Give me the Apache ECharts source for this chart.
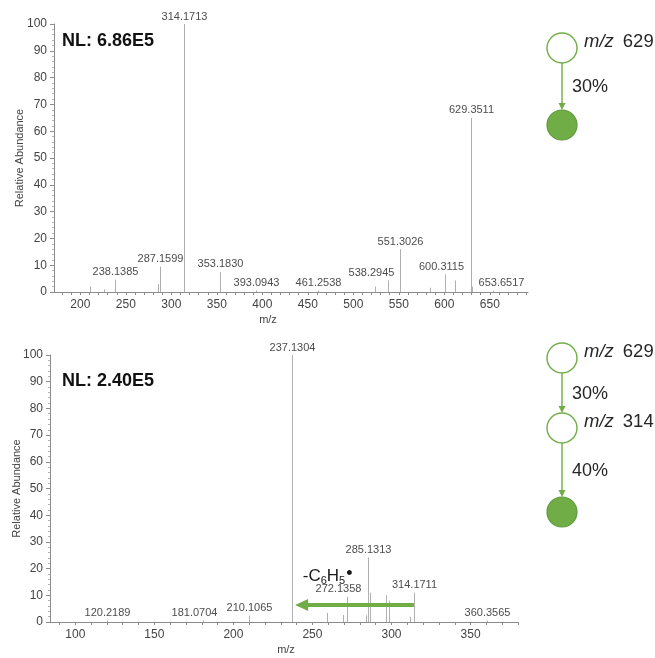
<!DOCTYPE html>
<html>
<head>
<meta charset="utf-8">
<script src="https://cdn.jsdelivr.net/npm/echarts@6/dist/echarts.min.js"></script>
<style>
  html, body { margin: 0; padding: 0; background: #ffffff; }
  #chart { width: 655px; height: 658px; }
</style>
</head>
<body>
<div id="chart"></div>
<script>
// ---- MS2 spectrum of precursor m/z 629 (upper panel) ----
const ms2Mz  = [210.6, 226.0, 238.1385, 285.5, 287.1599, 314.1713, 353.1830, 393.0943, 461.2538,
                523.5, 538.2945, 551.3026, 583.8, 600.3115, 611.5, 629.3511, 630.4, 653.6517];
const ms2Int = [2.0, 1.0, 4.6, 3.0, 9.5, 100, 7.5, 0.6, 0.5,
                2.0, 4.3, 16.0, 1.6, 6.6, 4.3, 65.0, 2.0, 0.5];
const ms2Labeled = [238.1385, 287.1599, 314.1713, 353.1830, 393.0943, 461.2538,
                    538.2945, 551.3026, 600.3115, 629.3511, 653.6517];
const ms2NL = 'NL: 6.86E5';

// ---- MS3 spectrum 629 -> 314 (lower panel) ----
const ms3Mz  = [120.2189, 181.0704, 210.1065, 237.1304, 259.1, 269.3, 272.1358, 284.1, 285.1313,
                286.6, 296.6, 298.3, 311.8, 314.1711, 360.3565];
const ms3Int = [0.5, 0.6, 2.4, 100, 3.4, 2.6, 9.5, 2.5, 24.2,
                11.0, 10.0, 8.0, 2.0, 11.0, 0.5];
const ms3Labeled = [120.2189, 181.0704, 210.1065, 237.1304, 272.1358, 285.1313, 314.1711, 360.3565];
const ms3NL = 'NL: 2.40E5';

// neutral loss of the phenyl radical: 314 -> 237
const lossFrom = 314.1711;
const lossTo = 237.1304;
const lossLevel = 6.4;
const lossTextAnchor = [259.6, 17.2];

// axis ticks
const yTicks = [0, 10, 20, 30, 40, 50, 60, 70, 80, 90, 100];
const ms2XLabels = [200, 250, 300, 350, 400, 450, 500, 550, 600, 650];
const ms2XTicks = [180, 190, 200, 210, 220, 230, 240, 250, 260, 270, 280, 290, 300, 310, 320, 330, 340,
                   350, 360, 370, 380, 390, 400, 410, 420, 430, 440, 450, 460, 470, 480, 490, 500, 510,
                   520, 530, 540, 550, 560, 570, 580, 590, 600, 610, 620, 630, 640, 650, 660, 670, 680, 690];
const ms3XLabels = [100, 150, 200, 250, 300, 350];
const ms3XTicks = [90, 100, 110, 120, 130, 140, 150, 160, 170, 180, 190, 200, 210, 220, 230, 240, 250,
                   260, 270, 280, 290, 300, 310, 320, 330, 340, 350, 360, 370, 380];

// fragmentation trees
const tree2Nodes = ['m/z 629'];
const tree2Steps = ['30%'];
const tree3Nodes = ['m/z 629', 'm/z 314'];
const tree3Steps = ['30%', '40%'];

// ---- styling ----
const FONT = '"Liberation Sans", Arial, Helvetica, sans-serif';
const GREEN = '#70ad47';
const GREEN_DARK = '#5e9a3b';
const PEAK = '#b0b0b0';
const AXIS = '#8c8c8c';
// horizontal shifts (px) of labels that are moved aside to avoid collisions
const labelNudge = { '538.2945': -17, '600.3115': -4, '653.6517': 8, '181.0704': -9, '272.1358': -9 };

function peakSeries(mzArr, intArr, labeled, gridIdx) {
  const data = mzArr.map((m, i) => [m, intArr[i]]);
  return {
    type: 'custom',
    xAxisIndex: gridIdx,
    yAxisIndex: gridIdx,
    silent: true,
    data: data,
    renderItem: function (params, api) {
      const mz = api.value(0);
      const ab = api.value(1);
      const base = api.coord([mz, 0]);
      const top = api.coord([mz, ab]);
      const x = Math.round(base[0]) + 0.5;
      const children = [{
        type: 'line',
        shape: { x1: x, y1: base[1], x2: x, y2: top[1] },
        style: { stroke: PEAK, lineWidth: 1 }
      }];
      if (labeled.indexOf(mz) >= 0) {
        const txt = mz.toFixed(4);
        children.push({
          type: 'text',
          style: {
            text: txt, x: x + (labelNudge[txt] || 0), y: top[1] - 2,
            align: 'center', verticalAlign: 'bottom',
            fill: '#4d4d4d', font: '11px ' + FONT
          }
        });
      }
      return { type: 'group', children: children };
    }
  };
}

function lossArrowSeries() {
  return {
    type: 'custom',
    xAxisIndex: 1,
    yAxisIndex: 1,
    silent: true,
    data: [[lossFrom, lossTo, lossLevel]],
    renderItem: function (params, api) {
      const start = api.coord([api.value(0), api.value(2)]);
      const endRef = api.coord([api.value(1), api.value(2)]);
      const tip = endRef[0] + 3;
      const y = start[1];
      const headLen = 13, headHalf = 6;
      const t = api.coord(lossTextAnchor);
      return {
        type: 'group',
        children: [
          { type: 'line', shape: { x1: start[0], y1: y, x2: tip + headLen - 1, y2: y },
            style: { stroke: GREEN, lineWidth: 4 } },
          { type: 'polygon', shape: { points: [[tip, y], [tip + headLen, y - headHalf], [tip + headLen, y + headHalf]] },
            style: { fill: GREEN } },
          { type: 'text', style: {
              text: '{n|-C}{s|6}{n|H}{s|5}{d|•}', x: t[0], y: t[1], align: 'center', verticalAlign: 'middle',
              rich: {
                n: { fontSize: 17, fontFamily: FONT, fill: '#1a1a1a' },
                s: { fontSize: 11, fontFamily: FONT, fill: '#1a1a1a', padding: [9, 0, 0, 0] },
                d: { fontSize: 18, fontFamily: FONT, fill: '#1a1a1a', padding: [0, 0, 4, 1] }
              }
          } }
        ]
      };
    }
  };
}

function xAxisDef(gridIdx, min, max, labels, ticks, namePad) {
  return {
    gridIndex: gridIdx, type: 'value', min: min, max: max,
    name: 'm/z', nameLocation: 'middle', nameGap: 22, nameMoveOverlap: false,
    nameTextStyle: { fontSize: 11, color: '#444', fontFamily: FONT, padding: namePad },
    axisLine: { show: true, onZero: false, lineStyle: { color: AXIS, width: 1 } },
    axisTick: { show: true, length: 3, customValues: ticks, lineStyle: { color: AXIS } },
    axisLabel: { customValues: labels, fontSize: 12, color: '#444', fontFamily: FONT, margin: 7 },
    splitLine: { show: false }
  };
}

function yAxisDef(gridIdx, gap) {
  return {
    gridIndex: gridIdx, type: 'value', min: 0, max: 100, interval: 10,
    name: 'Relative Abundance', nameLocation: 'middle', nameGap: gap, nameRotate: 90,
    nameMoveOverlap: false,
    nameTextStyle: { fontSize: 11, color: '#444', fontFamily: FONT },
    axisLine: { show: true, lineStyle: { color: AXIS, width: 1 } },
    axisTick: { show: true, length: 4, customValues: yTicks, lineStyle: { color: AXIS } },
    minorTick: { show: true, splitNumber: 5, length: 2, lineStyle: { color: '#b5b5b5' } },
    axisLabel: { fontSize: 12, color: '#444', fontFamily: FONT, margin: 7 },
    splitLine: { show: false }
  };
}

// fragmentation tree drawn as graphic elements
function treeGraphics(cx, nodeYs, nodeTexts, stepTexts) {
  const r = 15;
  const els = [];
  nodeYs.forEach((cy, i) => {
    const last = i === nodeYs.length - 1;
    els.push({
      type: 'circle', shape: { cx: cx, cy: cy, r: r },
      style: last ? { fill: GREEN, stroke: GREEN_DARK, lineWidth: 1.2 } : { fill: '#fff', stroke: GREEN, lineWidth: 1.4 },
      z: 10
    });
    if (!last) {
      const parts = nodeTexts[i].split(' ');
      els.push({
        type: 'text', z: 10,
        style: {
          text: '{i|' + parts[0] + '}{r|' + parts[1] + '}', x: cx + 22, y: cy - 6,
          verticalAlign: 'middle', align: 'left',
          rich: {
            i: { fontSize: 18.5, fontStyle: 'italic', fontFamily: FONT, fill: '#262626' },
            r: { fontSize: 18.5, fontFamily: FONT, fill: '#262626', padding: [0, 0, 0, 9] }
          }
        }
      });
      const y1 = cy + r, y2 = nodeYs[i + 1] - r;
      els.push({ type: 'line', z: 9, shape: { x1: cx, y1: y1, x2: cx, y2: y2 - 4 },
                 style: { stroke: GREEN, lineWidth: 1.4 } });
      els.push({ type: 'polygon', z: 9, shape: { points: [[cx, y2], [cx - 3.5, y2 - 7], [cx + 3.5, y2 - 7]] },
                 style: { fill: GREEN } });
      els.push({
        type: 'text', z: 10,
        style: { text: stepTexts[i], x: cx + 10, y: (y1 + y2) / 2 + 1, verticalAlign: 'middle', align: 'left',
                 fontSize: 18, fontFamily: FONT, fill: '#262626' }
      });
    }
  });
  return els;
}

const chart = echarts.init(document.getElementById('chart'), null, { renderer: 'canvas' });

chart.setOption({
  animation: false,
  backgroundColor: '#ffffff',
  grid: [
    { left: 54, top: 24, width: 474, height: 268 },
    { left: 50, top: 355, width: 468, height: 267 }
  ],
  xAxis: [
    xAxisDef(0, 171, 692, ms2XLabels, ms2XTicks, [0, 46, 0, 0]),
    xAxisDef(1, 84, 380, ms3XLabels, ms3XTicks, [0, 0, 0, 4])
  ],
  yAxis: [yAxisDef(0, 29), yAxisDef(1, 28)],
  series: [
    peakSeries(ms2Mz, ms2Int, ms2Labeled, 0),
    peakSeries(ms3Mz, ms3Int, ms3Labeled, 1),
    lossArrowSeries()
  ],
  graphic: [
    { type: 'text', left: 62, top: 32, style: { text: ms2NL, font: 'bold 18px ' + FONT, fill: '#111' } },
    { type: 'text', left: 62, top: 372, style: { text: ms3NL, font: 'bold 18px ' + FONT, fill: '#111' } }
  ].concat(treeGraphics(562, [48, 125], tree2Nodes, tree2Steps))
   .concat(treeGraphics(562, [358, 428, 512], tree3Nodes, tree3Steps))
});
</script>
</body>
</html>
